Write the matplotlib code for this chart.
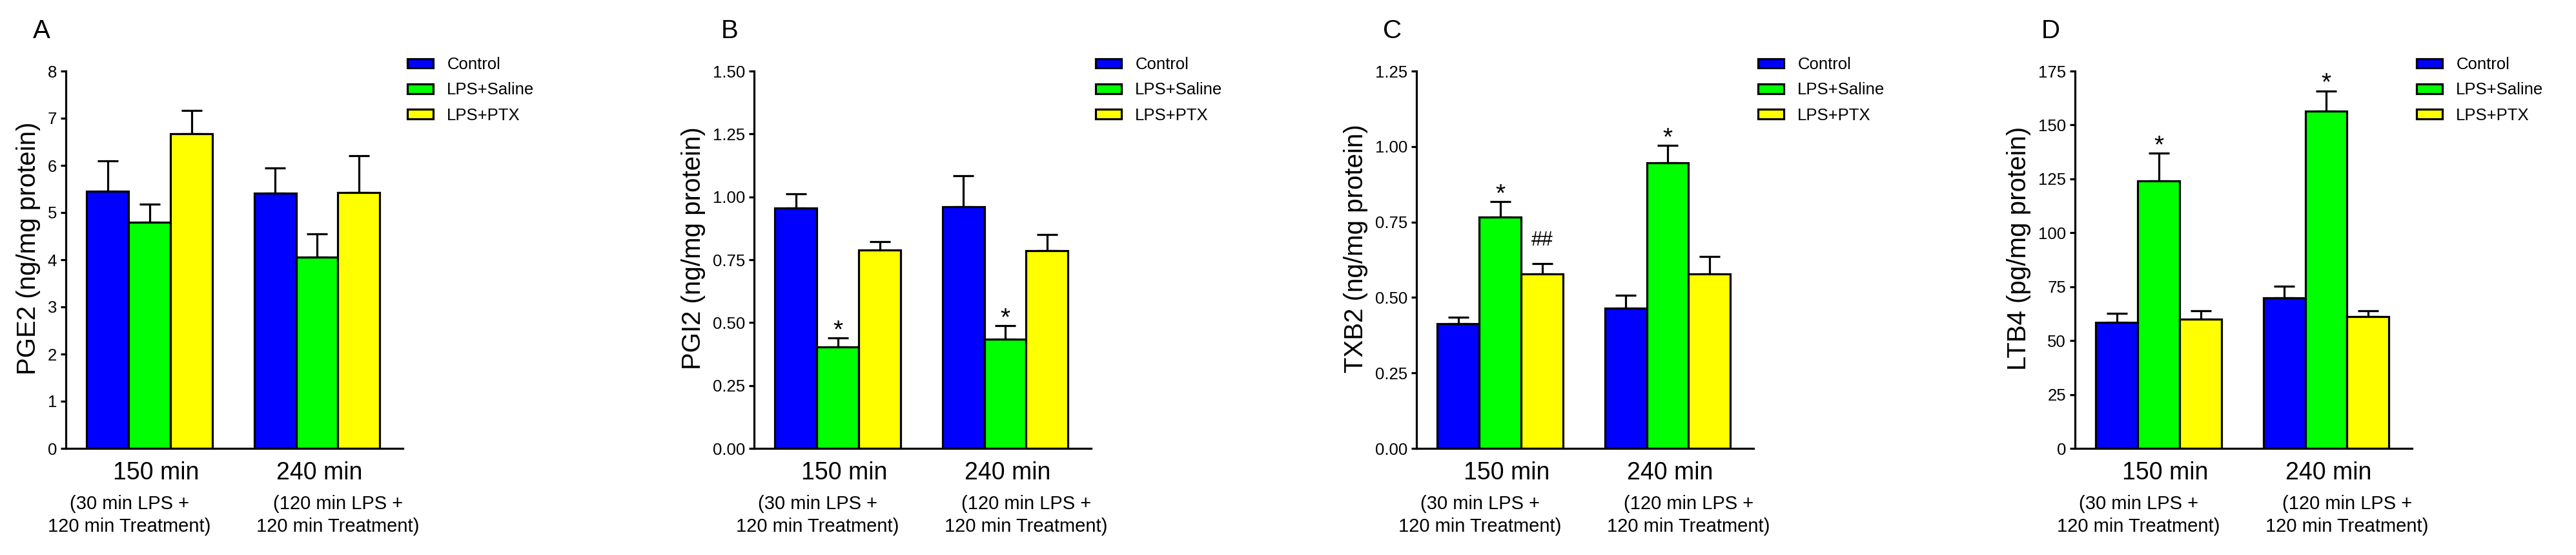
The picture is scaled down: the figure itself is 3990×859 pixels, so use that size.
import numpy as np
import matplotlib.pyplot as plt
from matplotlib.transforms import blended_transform_factory

plt.rcParams['font.family'] = ['Liberation Sans', 'DejaVu Sans']

groups = ["150 min", "240 min"]
sub_line1 = ["(30 min LPS +", "(120 min LPS +"]
sub_line2 = ["120 min Treatment)", "120 min Treatment)"]
series = ["Control", "LPS+Saline", "LPS+PTX"]
colors = ["#0000FF", "#00FF00", "#FFFF00"]

panel_letters = ["A", "B", "C", "D"]
ylabels = ["PGE2 (ng/mg protein)", "PGI2 (ng/mg protein)",
           "TXB2 (ng/mg protein)", "LTB4 (pg/mg protein)"]

# means [series][group], sem [series][group]
pge2_mean = [[5.45, 5.41], [4.79, 4.06], [6.67, 5.42]]
pge2_err = [[0.64, 0.54], [0.39, 0.49], [0.50, 0.78]]
pgi2_mean = [[0.956, 0.960], [0.403, 0.434], [0.788, 0.785]]
pgi2_err = [[0.057, 0.124], [0.035, 0.053], [0.033, 0.066]]
txb2_mean = [[0.414, 0.465], [0.766, 0.946], [0.577, 0.577]]
txb2_err = [[0.021, 0.042], [0.051, 0.057], [0.035, 0.059]]
ltb4_mean = [[58.3, 69.9], [124.2, 156.4], [59.9, 61.1]]
ltb4_err = [[4.3, 5.2], [12.6, 9.3], [3.8, 2.6]]

# significance marks: (series, group, text)
pge2_marks = []
pgi2_marks = [(1, 0, "*"), (1, 1, "*")]
txb2_marks = [(1, 0, "*"), (2, 0, "##"), (1, 1, "*")]
ltb4_marks = [(1, 0, "*"), (1, 1, "*")]

panels = [
    (pge2_mean, pge2_err, pge2_marks, 8, 1, "{:.0f}"),
    (pgi2_mean, pgi2_err, pgi2_marks, 1.5, 0.25, "{:.2f}"),
    (txb2_mean, txb2_err, txb2_marks, 1.25, 0.25, "{:.2f}"),
    (ltb4_mean, ltb4_err, ltb4_marks, 175, 25, "{:.0f}"),
]

fig = plt.figure(figsize=(39.9, 8.59), dpi=100)
lefts = [102, 1168, 2194, 3214]
W, H = 3990.0, 859.0
ax_w = 522 / W
ax_b = 1 - 694 / H
ax_h = (694 - 110) / H

centers = np.array([2.0, 6.0])
lw = 2.3

for k in range(4):
    mean, err, marks, ymax, step, fmt = panels[k]
    ax = fig.add_axes([lefts[k] / W, ax_b, ax_w, ax_h])
    for s in range(3):
        x = centers + (s - 1)
        ax.bar(x, mean[s], width=1.0, color=colors[s], edgecolor="black",
               linewidth=lw, label=series[s], zorder=2)
        ax.errorbar(x, mean[s], yerr=[np.zeros(2), err[s]], fmt="none",
                    ecolor="black", elinewidth=lw, capsize=11.5, capthick=lw,
                    zorder=1)
    for s, g, txt in marks:
        top = mean[s][g] + err[s][g]
        if txt == "*":
            off, fs = 1, 28
        else:
            off, fs = 20, 22
        ax.annotate(txt, (centers[g] + s - 1, top), xytext=(0, off),
                    textcoords="offset points", ha="center", va="baseline",
                    fontsize=fs)
    ax.set_xlim(0, 8.05)
    ax.set_ylim(0, ymax)
    ticks = np.arange(0, ymax + step / 2, step)
    ax.set_yticks(ticks)
    ax.set_yticklabels([fmt.format(t) for t in ticks])
    ax.set_xticks([])
    for sp in ["top", "right"]:
        ax.spines[sp].set_visible(False)
    ax.spines["left"].set_linewidth(lw)
    ax.spines["bottom"].set_linewidth(lw)
    ax.tick_params(axis="y", direction="out", length=6, width=lw,
                   labelsize=18.5, pad=4)
    ax.set_ylabel(ylabels[k], fontsize=29, labelpad=8)
    ax.yaxis.label.set_y(0.53)

    tr = blended_transform_factory(ax.transData, fig.transFigure)
    ax.text(centers[0] + 0.15, 0.1362, groups[0], transform=tr, ha="center",
            va="baseline", fontsize=27)
    ax.text(centers[1] + 0.05, 0.1362, groups[1], transform=tr, ha="center",
            va="baseline", fontsize=27)
    for g, dx in [(0, -0.48), (1, 0.5)]:
        ax.text(centers[g] + dx, 0.0827, sub_line1[g], transform=tr,
                ha="center", va="baseline", fontsize=21)
        ax.text(centers[g] + dx, 0.0419, sub_line2[g], transform=tr,
                ha="center", va="baseline", fontsize=21)

    fig.text((lefts[k] - 37.5) / W, 0.9447, panel_letters[k], ha="center",
             va="center", fontsize=29)

    ax.legend(loc="upper left", bbox_to_anchor=(1.0, 1.05), frameon=False,
              fontsize=18.5, handlelength=1.56, handleheight=0.5,
              labelspacing=0.6, handletextpad=0.82, borderaxespad=0,
              borderpad=0.28)

fig.savefig("out.png", dpi=100, facecolor="white")
